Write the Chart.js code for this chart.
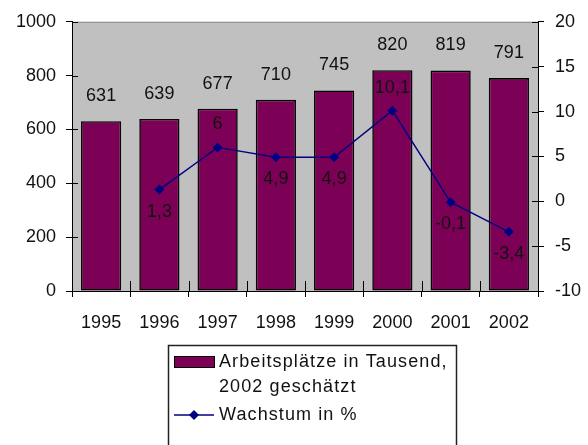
<!DOCTYPE html>
<html>
<head>
<meta charset="utf-8">
<script src="https://cdn.jsdelivr.net/npm/chart.js@4/dist/chart.umd.min.js"></script>
<style>
  html, body { margin: 0; padding: 0; background: #fff; }
  #wrap { width: 588px; height: 445px; position: relative; }
</style>
</head>
<body>
<div id="wrap"><canvas id="c" width="588" height="445"></canvas></div>
<script>
// Jahre
const years = ['1995', '1996', '1997', '1998', '1999', '2000', '2001', '2002'];
// Arbeitsplätze in Tausend
const jobs = [631, 639, 677, 710, 745, 820, 819, 791];
// Wachstum in % (kein Wert für 1995)
const growth = [null, 1.3, 6, 4.9, 4.9, 10.1, -0.1, -3.4];
// Achsen
const leftTicks = [0, 200, 400, 600, 800, 1000];
const rightTicks = [-10, -5, 0, 5, 10, 15, 20];
// Legendentexte
const seriesNames = ['Arbeitsplätze in Tausend,\n2002 geschätzt', 'Wachstum in %'];

const BAR_COLOR = '#7d0057';
const LINE_COLOR = '#000080';
const TEXT_COLOR = '#111111';
const FONT = "'Liberation Sans', Arial, sans-serif";

Chart.defaults.font.family = FONT;
Chart.defaults.font.size = 18;
Chart.defaults.color = TEXT_COLOR;

const fmt = v => String(v).replace('.', ',');

// grey plot background plus a thin top border
const plotBackground = {
  id: 'plotBackground',
  beforeDraw(chart) {
    const { ctx, chartArea: a } = chart;
    ctx.save();
    ctx.fillStyle = '#c0c0c0';
    ctx.fillRect(a.left, a.top, a.right - a.left, a.bottom - a.top);
    ctx.strokeStyle = '#8a8a8a';
    ctx.lineWidth = 1;
    ctx.beginPath();
    ctx.moveTo(a.left, a.top + 0.5);
    ctx.lineTo(a.right, a.top + 0.5);
    ctx.stroke();
    ctx.restore();
  }
};

// tick marks that cross into the plot area
const innerTicks = {
  id: 'innerTicks',
  afterDraw(chart) {
    const { ctx, chartArea: a, scales } = chart;
    ctx.save();
    ctx.strokeStyle = '#000';
    ctx.lineWidth = 1;
    ctx.beginPath();
    scales.y.ticks.forEach(t => {
      const py = Math.round(scales.y.getPixelForValue(t.value)) + 0.5;
      ctx.moveTo(a.left, py); ctx.lineTo(a.left + 6, py);
    });
    scales.y1.ticks.forEach(t => {
      const py = Math.round(scales.y1.getPixelForValue(t.value)) + 0.5;
      ctx.moveTo(a.right - 6, py); ctx.lineTo(a.right, py);
    });
    const x = scales.x;
    const step = x.getPixelForTick(1) - x.getPixelForTick(0);
    for (let i = 0; i <= years.length; i++) {
      const px = Math.round(x.getPixelForTick(0) - step / 2 + i * step) + 0.5;
      ctx.moveTo(px, a.bottom); ctx.lineTo(px, a.bottom - 10);
    }
    ctx.stroke();
    ctx.restore();
  }
};

// value labels over bars and beside line points
const valueLabels = {
  id: 'valueLabels',
  afterDatasetsDraw(chart) {
    const { ctx } = chart;
    ctx.save();
    ctx.font = '18px ' + FONT;
    ctx.fillStyle = TEXT_COLOR;
    ctx.textAlign = 'center';
    ctx.textBaseline = 'middle';
    chart.getDatasetMeta(0).data.forEach((el, i) => {
      ctx.fillText(fmt(jobs[i]), el.x, el.y - 25);
    });
    chart.getDatasetMeta(1).data.forEach((el, i) => {
      const v = growth[i];
      if (v === null) return;
      const prev = growth[i - 1];
      const above = prev !== null && prev !== undefined && v > prev;
      ctx.fillText(fmt(v), el.x, above ? el.y - 23 : el.y + 22);
    });
    ctx.restore();
  }
};

// boxed legend under the axis
const boxLegend = {
  id: 'boxLegend',
  afterDraw(chart) {
    const { ctx } = chart;
    const ds = chart.data.datasets;
    const bx = 168, by = 345, bw = 288, bh = 120;
    ctx.save();
    ctx.fillStyle = '#fff';
    ctx.fillRect(bx, by, bw, bh);
    ctx.strokeStyle = '#222';
    ctx.lineWidth = 1.5;
    ctx.strokeRect(bx + 0.5, by + 0.5, bw, bh);

    ctx.font = '18px ' + FONT;
    if ('letterSpacing' in ctx) ctx.letterSpacing = '1.1px';
    ctx.textAlign = 'left';
    ctx.textBaseline = 'middle';
    const tx = 219;

    // bar entry
    ctx.fillStyle = ds[0].backgroundColor;
    ctx.fillRect(174, 356, 40, 11);
    ctx.strokeStyle = '#000';
    ctx.lineWidth = 1;
    ctx.strokeRect(174.5, 356.5, 40, 11);
    ctx.fillStyle = TEXT_COLOR;
    const lines = ds[0].label.split('\n');
    lines.forEach((ln, k) => ctx.fillText(ln, tx, 362 + k * 25));

    // line entry
    const ly = 415;
    ctx.strokeStyle = ds[1].borderColor;
    ctx.lineWidth = 1.5;
    ctx.beginPath();
    ctx.moveTo(174, ly); ctx.lineTo(214, ly);
    ctx.stroke();
    ctx.fillStyle = ds[1].borderColor;
    ctx.beginPath();
    ctx.moveTo(194, ly - 5); ctx.lineTo(199, ly); ctx.lineTo(194, ly + 5); ctx.lineTo(189, ly);
    ctx.closePath();
    ctx.fill();
    ctx.fillStyle = TEXT_COLOR;
    ctx.fillText(ds[1].label, tx, ly);
    ctx.restore();
  }
};

new Chart(document.getElementById('c'), {
  data: {
    labels: years,
    datasets: [
      {
        type: 'bar',
        label: seriesNames[0],
        data: jobs,
        yAxisID: 'y',
        backgroundColor: BAR_COLOR,
        borderColor: '#000',
        borderWidth: 1.6,
        borderSkipped: false,
        categoryPercentage: 1,
        barPercentage: 0.69,
        order: 2
      },
      {
        type: 'line',
        label: seriesNames[1],
        data: growth,
        yAxisID: 'y1',
        borderColor: LINE_COLOR,
        backgroundColor: LINE_COLOR,
        borderWidth: 1.4,
        pointStyle: 'rectRot',
        pointRadius: 5,
        pointBorderWidth: 0,
        tension: 0,
        order: 1
      }
    ]
  },
  options: {
    responsive: false,
    animation: false,
    layout: { padding: { top: 19, left: 0, right: 0, bottom: 0 } },
    plugins: { legend: { display: false }, tooltip: { enabled: false } },
    scales: {
      x: {
        offset: true,
        grid: { offset: true, drawOnChartArea: false, color: '#000', tickLength: 6, tickColor: '#000' },
        border: { color: '#000', width: 1 },
        ticks: { padding: 15, maxRotation: 0 },
        afterFit(s) { s.height = 154; }
      },
      y: {
        position: 'left',
        min: leftTicks[0],
        max: leftTicks[leftTicks.length - 1],
        afterBuildTicks(s) { s.ticks = leftTicks.map(v => ({ value: v })); },
        grid: { drawOnChartArea: false, tickLength: 6, tickColor: '#000' },
        border: { color: '#000', width: 1 },
        ticks: { padding: 10, callback: v => String(v) },
        afterFit(s) { s.width = 72; }
      },
      y1: {
        position: 'right',
        min: rightTicks[0],
        max: rightTicks[rightTicks.length - 1],
        afterBuildTicks(s) { s.ticks = rightTicks.map(v => ({ value: v })); },
        grid: { drawOnChartArea: false, tickLength: 6, tickColor: '#000' },
        border: { color: '#000', width: 1 },
        ticks: { padding: 11, callback: v => String(v) },
        afterFit(s) { s.width = 50; }
      }
    }
  },
  plugins: [plotBackground, innerTicks, valueLabels, boxLegend]
});
</script>
</body>
</html>
